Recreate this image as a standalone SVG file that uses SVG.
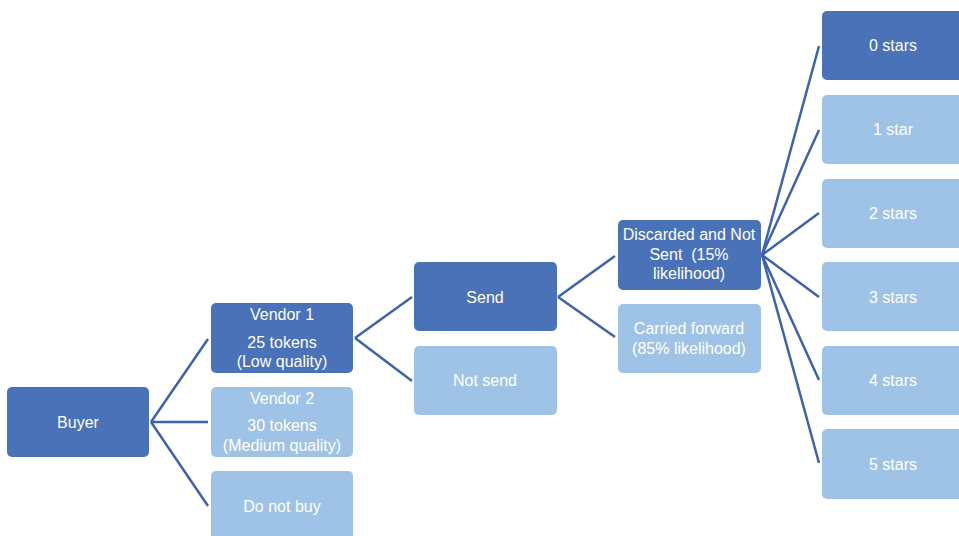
<svg xmlns="http://www.w3.org/2000/svg" width="959" height="536" viewBox="0 0 959 536">
<style>
.d{fill:#4a72b8}
.l{fill:#9fc3e6}
text{font-family:"Liberation Sans",Arial,sans-serif;font-size:16px;fill:#ffffff;text-anchor:middle;dominant-baseline:central;white-space:pre}
.c line{stroke:#3d63ab;stroke-width:2.5;fill:none}
</style>
<rect width="959" height="536" fill="#ffffff"/>
<g class="c" id="connectors">
<line x1="151" y1="422" x2="208" y2="339"/>
<line x1="151" y1="422" x2="208" y2="422"/>
<line x1="151" y1="422" x2="208" y2="506"/>
<line x1="355" y1="338" x2="412" y2="297"/>
<line x1="355" y1="338" x2="412" y2="381"/>
<line x1="558" y1="297" x2="615" y2="256"/>
<line x1="558" y1="297" x2="615" y2="337"/>
<line x1="762" y1="255" x2="819" y2="46"/>
<line x1="762" y1="255" x2="819" y2="130"/>
<line x1="762" y1="255" x2="819" y2="213"/>
<line x1="762" y1="255" x2="819" y2="297"/>
<line x1="762" y1="255" x2="819" y2="380"/>
<line x1="762" y1="255" x2="819" y2="463"/>
</g>
<g id="buyer"><rect class="d" x="7" y="387" width="142" height="70" rx="5"/><text x="78" y="422">Buyer</text></g>
<g id="vendor1"><rect class="d" x="211" y="303" width="142" height="70" rx="5"/><text x="282" y="314">Vendor 1</text><text x="282" y="342">25 tokens</text><text x="282" y="361">(Low quality)</text></g>
<g id="vendor2"><rect class="l" x="211" y="387" width="142" height="70" rx="5"/><text x="282" y="398">Vendor 2</text><text x="282" y="425">30 tokens</text><text x="282" y="445">(Medium quality)</text></g>
<g id="donotbuy"><rect class="l" x="211" y="471" width="142" height="75" rx="5"/><text x="282" y="506">Do not buy</text></g>
<g id="send"><rect class="d" x="414" y="262" width="143" height="69" rx="5"/><text x="485" y="297">Send</text></g>
<g id="notsend"><rect class="l" x="414" y="346" width="143" height="69" rx="5"/><text x="485" y="380">Not send</text></g>
<g id="discarded"><rect class="d" x="618" y="220" width="143" height="70" rx="5"/><text x="689" y="234">Discarded and Not</text><text x="689" y="254">Sent  (15%</text><text x="689" y="273">likelihood)</text></g>
<g id="carried"><rect class="l" x="618" y="304" width="143" height="69" rx="5"/><text x="689" y="328">Carried forward</text><text x="689" y="348">(85% likelihood)</text></g>
<g id="stars0"><rect class="d" x="822" y="11" width="150" height="69" rx="5"/><text x="893" y="45">0 stars</text></g>
<g id="stars1"><rect class="l" x="822" y="95" width="150" height="69" rx="5"/><text x="893" y="129">1 star</text></g>
<g id="stars2"><rect class="l" x="822" y="179" width="150" height="69" rx="5"/><text x="893" y="213">2 stars</text></g>
<g id="stars3"><rect class="l" x="822" y="262" width="150" height="69" rx="5"/><text x="893" y="297">3 stars</text></g>
<g id="stars4"><rect class="l" x="822" y="346" width="150" height="69" rx="5"/><text x="893" y="380">4 stars</text></g>
<g id="stars5"><rect class="l" x="822" y="429" width="150" height="70" rx="5"/><text x="893" y="464">5 stars</text></g>
</svg>
